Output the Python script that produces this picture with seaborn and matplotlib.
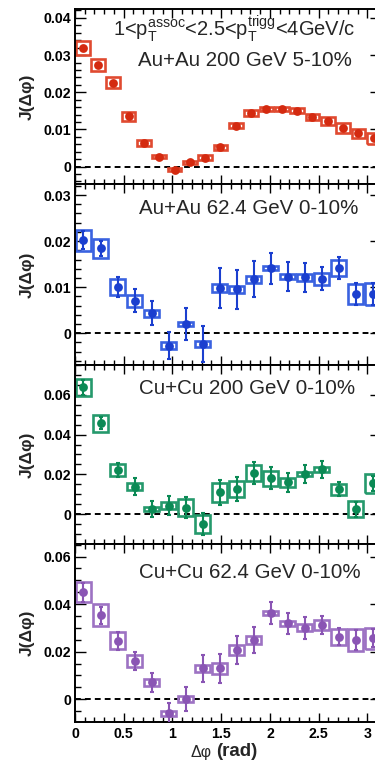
import numpy as np
import pandas as pd
import matplotlib
matplotlib.use("Agg")
import matplotlib.pyplot as plt
from matplotlib.ticker import MultipleLocator, FuncFormatter
import seaborn as sns

# ---------------- data ----------------
phi20 = [0.079, 0.236, 0.393, 0.550, 0.707, 0.864, 1.021, 1.178, 1.335, 1.492,
         1.649, 1.806, 1.963, 2.120, 2.278, 2.435, 2.592, 2.749, 2.906, 3.063]
phi18 = [0.087, 0.262, 0.436, 0.611, 0.785, 0.960, 1.134, 1.309, 1.484, 1.658,
         1.833, 2.007, 2.182, 2.356, 2.531, 2.705, 2.880, 3.054]

# Au+Au 200 GeV 5-10%
auau200_y = [0.0319, 0.0273, 0.0226, 0.0135, 0.0064, 0.0027, -0.0008, 0.0011, 0.0024, 0.0052,
             0.0110, 0.0144, 0.0155, 0.0155, 0.0150, 0.0134, 0.0122, 0.0103, 0.0089, 0.0076]
auau200_stat = [0.0004] * 20
auau200_sys = [0.0018, 0.0017, 0.0015, 0.0012, 0.00076, 0.00045, 0.0005, 0.0005, 0.0006, 0.0007,
               0.00075, 0.0007, 0.0006, 0.0006, 0.0007, 0.0008, 0.0011, 0.0013, 0.0013, 0.0014]

# Au+Au 62.4 GeV 0-10%
auau62_y = [0.0202, 0.0184, 0.0100, 0.0070, 0.0043, -0.0027, 0.0020, -0.0023, 0.0098, 0.0095,
            0.0117, 0.0141, 0.0123, 0.0121, 0.0118, 0.0141, 0.0085, 0.0085]
auau62_stat = [0.0020, 0.0016, 0.0022, 0.0025, 0.0026, 0.0030, 0.0034, 0.0039, 0.0043, 0.0042,
               0.0039, 0.0034, 0.0031, 0.0031, 0.0025, 0.0024, 0.0023, 0.0023]
auau62_sys = [0.0023, 0.0020, 0.0017, 0.0012, 0.0007, 0.0008, 0.0004, 0.0007, 0.0009, 0.0008,
              0.0007, 0.0004, 0.0005, 0.0008, 0.0013, 0.0017, 0.0022, 0.0023]

# Cu+Cu 200 GeV 0-10%
cucu200_y = [0.0639, 0.0457, 0.0222, 0.0138, 0.0025, 0.0042, 0.0032, -0.0050, 0.0109, 0.0126,
             0.0208, 0.0180, 0.0160, 0.0202, 0.0225, 0.0124, 0.0025, 0.0155]
cucu200_stat = [0.0038, 0.0030, 0.0036, 0.0042, 0.0042, 0.0048, 0.0052, 0.0056, 0.0065, 0.0061,
                0.0055, 0.0055, 0.0048, 0.0045, 0.0042, 0.0035, 0.0038, 0.0039]
cucu200_sys = [0.0042, 0.0042, 0.0029, 0.0018, 0.0011, 0.0017, 0.0042, 0.0045, 0.0048, 0.0042,
               0.0040, 0.0038, 0.0023, 0.0011, 0.0014, 0.0029, 0.0040, 0.0047]

# Cu+Cu 62.4 GeV 0-10%
cucu62_y = [0.0449, 0.0354, 0.0246, 0.0161, 0.0071, -0.0059, 0.0000, 0.0130, 0.0130, 0.0207,
            0.0249, 0.0364, 0.0319, 0.0301, 0.0312, 0.0263, 0.0249, 0.0256]
cucu62_stat = [0.0040, 0.0036, 0.0038, 0.0037, 0.0040, 0.0045, 0.0050, 0.0056, 0.0060, 0.0057,
               0.0053, 0.0047, 0.0045, 0.0046, 0.0038, 0.0035, 0.0043, 0.0038]
cucu62_sys = [0.0042, 0.0045, 0.0035, 0.0024, 0.0014, 0.0010, 0.0012, 0.0014, 0.0024, 0.0023,
              0.0017, 0.0009, 0.0010, 0.0014, 0.0022, 0.0034, 0.0045, 0.0044]

labels = ["Au+Au 200 GeV 5-10%", "Au+Au 62.4 GeV 0-10%",
          "Cu+Cu 200 GeV 0-10%", "Cu+Cu 62.4 GeV 0-10%"]
cut_label = r"1<p$_{T}^{assoc}$<2.5<p$_{T}^{trigg}$<4GeV/c"
x_ticklabels = ["0", "0.5", "1", "1.5", "2", "2.5", "3"]
x_ticks = [0, 0.5, 1, 1.5, 2, 2.5, 3]

# ---------------- style ----------------
sns.set_theme(style="ticks")
plt.rcParams["font.family"] = ["Liberation Sans", "DejaVu Sans"]
plt.rcParams["mathtext.fontset"] = "custom"
plt.rcParams["mathtext.rm"] = "Liberation Sans"
plt.rcParams["mathtext.it"] = "Liberation Sans"
plt.rcParams["mathtext.bf"] = "Liberation Sans:bold"
plt.rcParams["mathtext.default"] = "regular"

W, H = 375, 760
fig = plt.figure(figsize=(W / 100, H / 100), dpi=100)

panels = [
    dict(x=phi20, y=auau200_y, stat=auau200_stat, sys=auau200_sys,
         c="#d42a10", cb="#e04a30", ylim=(-0.0047, 0.0424), major=0.01, minor=0.002,
         bw=0.14, top=9, bot=184, label=labels[0]),
    dict(x=phi18, y=auau62_y, stat=auau62_stat, sys=auau62_sys,
         c="#1b3fcf", cb="#3a62e0", ylim=(-0.0069, 0.0324), major=0.01, minor=0.002,
         bw=0.155, top=184, bot=365, label=labels[1]),
    dict(x=phi18, y=cucu200_y, stat=cucu200_stat, sys=cucu200_sys,
         c="#0b8a55", cb="#25996c", ylim=(-0.0151, 0.0751), major=0.02, minor=0.005,
         bw=0.15, top=365, bot=544, label=labels[2]),
    dict(x=phi18, y=cucu62_y, stat=cucu62_stat, sys=cucu62_sys,
         c="#8a55b4", cb="#9d72c3", ylim=(-0.0096, 0.0653), major=0.02, minor=0.005,
         bw=0.155, top=544, bot=722, label=labels[3]),
]

left_px, right_px = 75, 381.3
fmt = FuncFormatter(lambda v, p: "0" if abs(v) < 1e-12 else f"{v:g}")

for i, p in enumerate(panels):
    ax = fig.add_axes([left_px / W, 1 - p["bot"] / H,
                       (right_px - left_px) / W, (p["bot"] - p["top"]) / H])
    df = pd.DataFrame({"phi": p["x"], "J": p["y"], "stat": p["stat"], "sys": p["sys"]})
    # systematic boxes
    ax.bar(df["phi"], 2 * df["sys"], bottom=df["J"] - df["sys"], width=p["bw"],
           fill=False, edgecolor=p["cb"], linewidth=1.9, zorder=2)
    # statistical errors
    ax.errorbar(df["phi"], df["J"], yerr=df["stat"], fmt="none", ecolor=p["c"],
                elinewidth=1.5, capsize=1.6, capthick=1.5, zorder=3)
    sns.scatterplot(data=df, x="phi", y="J", ax=ax, color=p["c"], s=40,
                    edgecolor=p["c"], linewidth=0, zorder=4, legend=False)
    ax.axhline(0, color="black", lw=1.4, ls=(0, (3.0, 2.1)), zorder=1)

    ax.set_xlim(0, np.pi)
    ax.set_ylim(*p["ylim"])
    ax.xaxis.set_major_locator(MultipleLocator(0.5))
    ax.xaxis.set_minor_locator(MultipleLocator(0.1))
    ax.yaxis.set_major_locator(MultipleLocator(p["major"]))
    ax.yaxis.set_minor_locator(MultipleLocator(p["minor"]))
    ax.yaxis.set_major_formatter(fmt)
    ax.tick_params(axis="both", which="both", direction="in", top=True, right=True,
                   colors="black", width=1.0)
    ax.tick_params(axis="x", which="major", length=6.5)
    ax.tick_params(axis="x", which="minor", length=3.6)
    ax.tick_params(axis="y", which="major", length=8, pad=2.5)
    ax.tick_params(axis="y", which="minor", length=4.3)
    for lab in ax.get_yticklabels():
        lab.set_fontweight("bold")
        lab.set_fontsize(10.2)
    if i < 3:
        ax.tick_params(axis="x", labelbottom=False)
        ax.set_xlabel("")
    else:
        ax.set_xticks(x_ticks)
        ax.set_xticklabels(x_ticklabels, fontweight="bold", fontsize=10.2)
        ax.tick_params(axis="x", pad=3.5)
        ax.set_xlabel("")
    for s in ax.spines.values():
        s.set_linewidth(1.4)
        s.set_color("black")
    ax.set_ylabel("J(Δφ)", fontsize=12.5, fontweight="bold")
    ax.yaxis.set_label_coords(-0.13, 0.5)

    h = p["bot"] - p["top"]
    if i == 0:
        ax.text((113 - left_px) / (right_px - left_px), (p["bot"] - 29) / h, cut_label,
                transform=ax.transAxes, fontsize=14.5, ha="left", va="center")
        ax.text((138 - left_px) / (right_px - left_px), (p["bot"] - 61) / h, p["label"],
                transform=ax.transAxes, fontsize=14.8, ha="left", va="center")
    else:
        yc = {1: 208, 2: 388, 3: 572}[i]
        ax.text((139 - left_px) / (right_px - left_px), (p["bot"] - yc) / h, p["label"],
                transform=ax.transAxes, fontsize=14.8, ha="left", va="center")

fig.text(190 / W, 1 - 756.5 / H, "Δφ", fontsize=11.5, ha="left", va="baseline")
fig.text(216 / W, 1 - 756.5 / H, "(rad)", fontsize=13.5, fontweight="bold",
         ha="left", va="baseline")

fig.savefig("out.png", dpi=100)
